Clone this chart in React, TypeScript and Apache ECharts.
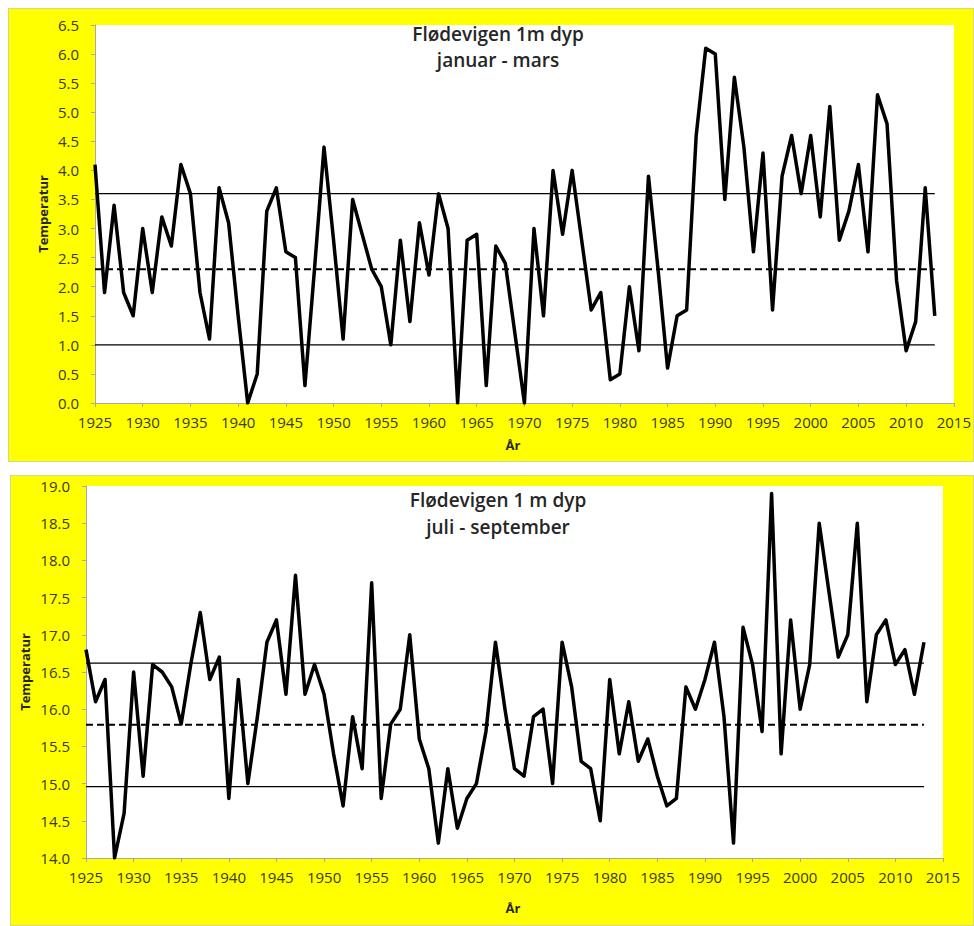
import React, { useEffect, useRef } from "react";
import * as echarts from "echarts";

const firstYear = 1925;

const winterTemps = [
  4.1, 1.9, 3.4, 1.9, 1.5, 3.0, 1.9, 3.2, 2.7, 4.1,
  3.6, 1.9, 1.1, 3.7, 3.1, 1.5, 0.0, 0.5, 3.3, 3.7,
  2.6, 2.5, 0.3, 2.3, 4.4, 2.8, 1.1, 3.5, 2.9, 2.3,
  2.0, 1.0, 2.8, 1.4, 3.1, 2.2, 3.6, 3.0, 0.0, 2.8,
  2.9, 0.3, 2.7, 2.4, 1.2, 0.0, 3.0, 1.5, 4.0, 2.9,
  4.0, 2.8, 1.6, 1.9, 0.4, 0.5, 2.0, 0.9, 3.9, 2.3,
  0.6, 1.5, 1.6, 4.6, 6.1, 6.0, 3.5, 5.6, 4.4, 2.6,
  4.3, 1.6, 3.9, 4.6, 3.6, 4.6, 3.2, 5.1, 2.8, 3.3,
  4.1, 2.6, 5.3, 4.8, 2.1, 0.9, 1.4, 3.7, 1.5,
];

const summerTemps = [
  16.8, 16.1, 16.4, 14.0, 14.6, 16.5, 15.1, 16.6, 16.5, 16.3,
  15.8, 16.6, 17.3, 16.4, 16.7, 14.8, 16.4, 15.0, 15.9, 16.9,
  17.2, 16.2, 17.8, 16.2, 16.6, 16.2, 15.4, 14.7, 15.9, 15.2,
  17.7, 14.8, 15.8, 16.0, 17.0, 15.6, 15.2, 14.2, 15.2, 14.4,
  14.8, 15.0, 15.7, 16.9, 16.0, 15.2, 15.1, 15.9, 16.0, 15.0,
  16.9, 16.3, 15.3, 15.2, 14.5, 16.4, 15.4, 16.1, 15.3, 15.6,
  15.1, 14.7, 14.8, 16.3, 16.0, 16.4, 16.9, 15.9, 14.2, 17.1,
  16.6, 15.7, 18.9, 15.4, 17.2, 16.0, 16.6, 18.5, 17.6, 16.7,
  17.0, 18.5, 16.1, 17.0, 17.2, 16.6, 16.8, 16.2, 16.9,
];

// reference lines: [upper, mean, lower]
const winterRefs = [3.6, 2.3, 1.0];
const summerRefs = [16.62, 15.79, 14.96];
const refSpan = [1925, 2013];

const winterTitle = ["Flødevigen 1m dyp", "januar - mars"];
const summerTitle = ["Flødevigen 1 m dyp", "juli - september"];
const yName = "Temperatur";
const xName = "År";

const FONT = "'Open Sans', 'Noto Sans', sans-serif";
const LABEL_COLOR = "#3a3a18";

function pairs(vals: number[]) {
  return vals.map((v, i) => [firstYear + i, v]);
}

function refSeries(refs: number[], gridIdx: number) {
  return refs.map((r, k) => ({
    type: "line",
    xAxisIndex: gridIdx,
    yAxisIndex: gridIdx,
    data: refSpan.map((yr) => [yr, r]),
    showSymbol: false,
    symbol: "none",
    silent: true,
    z: 2,
    lineStyle: {
      color: "#000",
      width: k === 1 ? 2 : 1.3,
      type: k === 1 ? [7, 4] : "solid",
    },
  }));
}

export default function App() {
  const ref = useRef<HTMLDivElement>(null);
  useEffect(() => {
    if (!ref.current) return;
    const chart = echarts.init(ref.current, undefined, { renderer: "svg" });
    const xAxisBase = {
      type: "value",
      min: 1925,
      max: 2015,
      interval: 5,
      axisLine: { show: true, lineStyle: { color: "#a8a8a8", width: 1 } },
      axisTick: { show: true, inside: false, length: 4, lineStyle: { color: "#a8a8a8" } },
      splitLine: { show: false },
      axisLabel: {
        color: LABEL_COLOR,
        fontFamily: FONT,
        fontSize: 15,
        margin: 11,
        formatter: (v: number) => String(Math.round(v)),
      },
    };
    const yAxisBase = {
      type: "value",
      interval: 0.5,
      axisLine: { show: true, lineStyle: { color: "#a8a8a8", width: 1 } },
      axisTick: { show: true, inside: false, length: 4, lineStyle: { color: "#a8a8a8" } },
      splitLine: { show: false },
      axisLabel: {
        color: LABEL_COLOR,
        fontFamily: FONT,
        fontSize: 15,
        margin: 16,
        formatter: (v: number) => v.toFixed(1),
      },
    };
    const titleText = (lines: string[], cx: number, y1: number, y2: number) =>
      lines.map((t, i) => ({
        type: "text",
        x: cx,
        y: i === 0 ? y1 : y2,
        z: 100,
        style: {
          text: t,
          fill: "#262626",
          font: `600 19px ${FONT}`,
          align: "center",
          verticalAlign: "middle",
        },
      }));
    const axisTitle = (t: string, x: number, y: number, rot: number) => ({
      type: "text",
      x,
      y,
      rotation: rot,
      z: 100,
      style: {
        text: t,
        fill: "#262626",
        font: `bold 13px ${FONT}`,
        align: "center",
        verticalAlign: "middle",
      },
    });
    chart.setOption({
      animation: false,
      backgroundColor: "transparent",
      grid: [
        { left: 95, top: 25, width: 860, height: 378, show: true, backgroundColor: "#ffffff", borderWidth: 0 },
        { left: 86, top: 486, width: 857, height: 372, show: true, backgroundColor: "#ffffff", borderWidth: 0 },
      ],
      xAxis: [
        { ...xAxisBase, gridIndex: 0 },
        { ...xAxisBase, gridIndex: 1 },
      ],
      yAxis: [
        { ...yAxisBase, gridIndex: 0, min: 0, max: 6.5 },
        { ...yAxisBase, gridIndex: 1, min: 14, max: 19 },
      ],
      graphic: [
        ...titleText(winterTitle, 498, 34, 60),
        ...titleText(summerTitle, 498, 500, 527),
        axisTitle(yName, 43, 214, Math.PI / 2),
        axisTitle(xName, 513, 445, 0),
        axisTitle(yName, 25, 672, Math.PI / 2),
        axisTitle(xName, 513, 908, 0),
      ],
      series: [
        ...refSeries(winterRefs, 0),
        ...refSeries(summerRefs, 1),
        {
          type: "line",
          xAxisIndex: 0,
          yAxisIndex: 0,
          data: pairs(winterTemps),
          showSymbol: false,
          symbol: "none",
          z: 5,
          lineStyle: { color: "#000", width: 3.5, join: "round" },
        },
        {
          type: "line",
          xAxisIndex: 1,
          yAxisIndex: 1,
          data: pairs(summerTemps),
          showSymbol: false,
          symbol: "none",
          z: 5,
          lineStyle: { color: "#000", width: 3.5, join: "round" },
        },
      ],
    });
    return () => chart.dispose();
  }, []);

  return (
    <div style={{ position: "absolute", left: 0, top: 0, width: 974, height: 926, background: "#ffffff", overflow: "hidden" }}>
      <div style={{ position: "absolute", left: 8, top: 8, width: 966, height: 454, background: "#ffff00", boxShadow: "inset 0 0 0 1px #d6d68a" }} />
      <div style={{ position: "absolute", left: 10, top: 475, width: 964, height: 451, background: "#ffff00", boxShadow: "inset 0 0 0 1px #d6d68a" }} />
      <div ref={ref} style={{ position: "absolute", left: 0, top: 0, width: 974, height: 926 }} />
    </div>
  );
}
